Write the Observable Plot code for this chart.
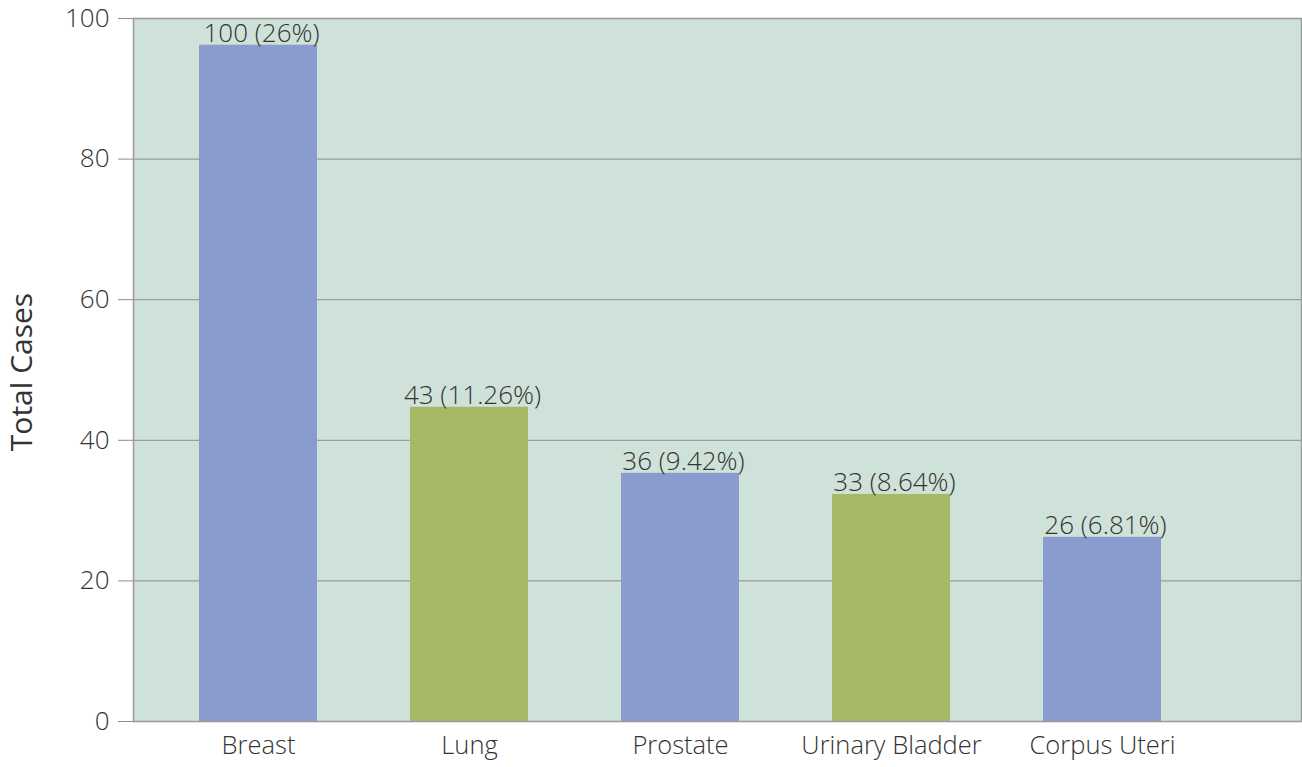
<!DOCTYPE html>
<html>
<head>
<meta charset="utf-8">
<script src="https://cdn.jsdelivr.net/npm/d3@7"></script>
<script src="https://cdn.jsdelivr.net/npm/@observablehq/plot@0.6"></script>
<style>
  html, body { margin: 0; padding: 0; background: #fff; }
  #chart svg { display: block; font-family: "Open Sans", sans-serif; font-weight: 300; }
</style>
</head>
<body>
<div id="chart"></div>
<script>
const categories = ["Breast", "Lung", "Prostate", "Urinary Bladder", "Corpus Uteri"];
const values = [96.2, 44.7, 35.3, 32.3, 26.2];
const labels = ["100 (26%)", "43 (11.26%)", "36 (9.42%)", "33 (8.64%)", "26 (6.81%)"];
const groups = ["a", "b", "a", "b", "a"];
const yTicks = [0, 20, 40, 60, 80, 100];
const yTitle = "Total Cases";

const data = categories.map((c, i) => ({category: c, value: values[i], label: labels[i], group: groups[i]}));

const chart = Plot.plot({
  width: 1302,
  height: 767,
  marginLeft: 133,
  marginRight: 1,
  marginTop: 18,
  marginBottom: 46,
  style: {fontFamily: "'Open Sans', sans-serif", fontWeight: 300, color: "#333"},
  x: {domain: categories, range: [151.25, 1208.75], paddingInner: 0.44, paddingOuter: 0.22, align: 0.5},
  y: {domain: [0, 100]},
  color: {domain: ["a", "b"], range: ["#8a9bce", "#a8b966"]},
  marks: [
    Plot.frame({fill: "#cfe2d9", stroke: null}),
    Plot.ruleY(yTicks, {stroke: "#8c8c8c", strokeWidth: 1}),
    Plot.barY(data, {x: "category", y: "value", fill: "group"}),
    Plot.frame({stroke: "#999", strokeWidth: 1.5}),
    Plot.text(data, {x: "category", y: "value", text: "label", lineAnchor: "bottom", dy: -3, dx: 3, fontSize: 26, fill: "#333"}),
    Plot.axisY(yTicks, {tickSize: 15, tickPadding: 9, fontSize: 26, stroke: "#8c8c8c", fill: "#333", label: null}),
    Plot.axisX({tickSize: 0, tickPadding: 14, fontSize: 25.5, fill: "#333", label: null}),
    Plot.text([yTitle], {frameAnchor: "left", dx: -111, dy: 2, rotate: -90, fontSize: 30, fontWeight: 400, fill: "#333", textAnchor: "middle", lineAnchor: "middle"})
  ]
});
document.getElementById("chart").appendChild(chart);
</script>
</body>
</html>
